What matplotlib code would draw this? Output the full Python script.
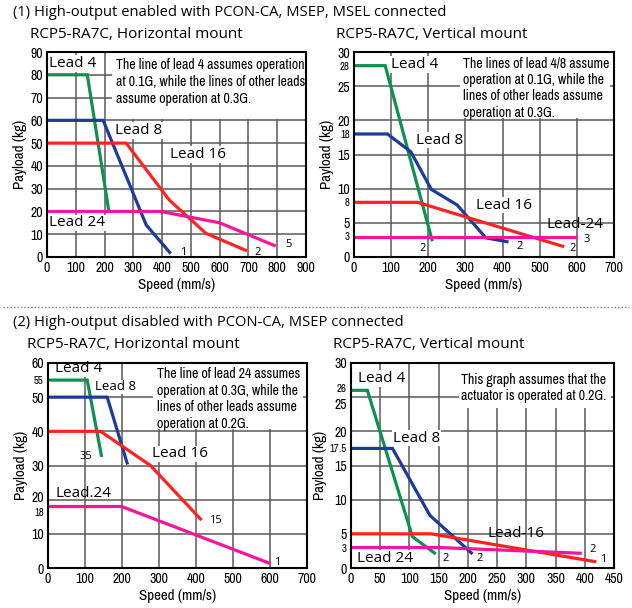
import matplotlib
matplotlib.use("Agg")
import matplotlib.pyplot as plt
from matplotlib import font_manager
from matplotlib.lines import Line2D
from matplotlib.patches import Rectangle
from matplotlib.transforms import ScaledTranslation

# DATA  (speed in mm/s, payload in kg)

# (1) high-output enabled, horizontal mount
p1_lead4_x = [0, 140, 215]
p1_lead4_y = [80, 80, 20]
p1_lead8_x = [0, 195, 345, 430]
p1_lead8_y = [60, 60, 14, 1.5]
p1_lead16_x = [0, 275, 425, 552, 695]
p1_lead16_y = [50, 50, 25, 10.4, 2.7]
p1_lead24_x = [0, 395, 600, 795]
p1_lead24_y = [20, 20, 15, 4.8]
p1_end_labels = ["", "1", "2", "5"]

# (1) high-output enabled, vertical mount
p2_lead4_x = [0, 84, 211]
p2_lead4_y = [28, 28, 2.3]
p2_lead8_x = [0, 90, 153, 208, 278, 355, 416]
p2_lead8_y = [18, 18, 15.4, 9.9, 7.6, 2.8, 2.2]
p2_lead16_x = [0, 171, 566]
p2_lead16_y = [8, 8, 1.5]
p2_lead24_x = [0, 600]
p2_lead24_y = [3, 3]
p2_end_labels = ["2", "2", "2", "3"]

# (2) high-output disabled, horizontal mount
p3_lead4_x = [0, 106, 145]
p3_lead4_y = [55, 55, 32.5]
p3_lead8_x = [0, 160, 215]
p3_lead8_y = [50, 50, 30.3]
p3_lead16_x = [0, 142, 277, 415]
p3_lead16_y = [40, 40, 30, 14]
p3_lead24_x = [0, 199, 601]
p3_lead24_y = [18, 18, 1.3]
p3_end_labels = ["35", "", "15", "1"]

# (2) high-output disabled, vertical mount
p4_lead4_x = [0, 28, 105, 145]
p4_lead4_y = [26, 26, 4.6, 2.05]
p4_lead8_x = [0, 71, 135, 208]
p4_lead8_y = [17.5, 17.5, 7.7, 2.05]
p4_lead16_x = [0, 137, 420]
p4_lead16_y = [5, 5, 0.9]
p4_lead24_x = [0, 150, 395]
p4_lead24_y = [3, 3, 2.15]
p4_end_labels = ["2", "2", "1", "2"]

lead_names = ["Lead 4", "Lead 8", "Lead 16", "Lead 24"]
colors = ["#0b9150", "#1d3a9c", "#ff2222", "#f5169a"]


# FONTS - look for a regular condensed face, otherwise shrink a narrow-ish one
def is_regular(f):
    return f.style == "normal" and f.weight in (400, "normal", "regular", "book")


def pick_narrow():
    fonts = font_manager.fontManager.ttflist
    for f in fonts:
        if ("Narrow" in f.name or "Condensed" in f.name) and is_regular(f):
            return f.name, "normal", 1.0
    for f in fonts:
        st = f.stretch
        if (st in ("condensed", "semi-condensed", "extra-condensed") or (
                isinstance(st, int) and st < 500)) and is_regular(f):
            return f.name, st, 1.0
    for f in fonts:
        if "Narrow" in f.name or "Condensed" in f.name:
            return f.name, "normal", 1.0
    return "Roboto", "normal", 0.84


NARROW, NARROW_STRETCH, NS = pick_narrow()
MAIN = "Open Sans"

plt.rcParams["font.family"] = [MAIN, "DejaVu Sans"]

W, H = 632, 608
fig = plt.figure(figsize=(W / 100, H / 100), dpi=100)


def nfont(size):
    return dict(family=NARROW, stretch=NARROW_STRETCH, weight="normal", fontsize=size * NS)


def add_axes_px(left, right, top, bottom):
    return fig.add_axes([left / W, 1 - bottom / H, (right - left) / W, (bottom - top) / H])


def setup(ax, xmax, xstep, ymax, yticks, ygrid, small_ticks):
    ax.set_xlim(0, xmax)
    ax.set_ylim(0, ymax)
    ax.set_xticks(range(0, xmax + 1, xstep))
    ax.set_yticks(yticks)
    ax.set_yticks(small_ticks, minor=True)
    ax.set_xticklabels([str(v) for v in range(0, xmax + 1, xstep)], **nfont(10))
    ax.set_yticklabels([str(v) for v in yticks], **nfont(10))
    ax.set_yticklabels([str(v) for v in small_ticks], minor=True, **nfont(7.8))
    ax.tick_params(which="both", length=0, pad=3)
    for v in range(xstep, xmax, xstep):
        ax.axvline(v, color="#5a5a5a", lw=1.1, zorder=1)
    for v in ygrid:
        ax.axhline(v, color="#5a5a5a", lw=1.1, zorder=1)
    for s in ax.spines.values():
        s.set_linewidth(1.5)
        s.set_zorder(6)
    ax.set_xlabel("Speed (mm/s)", labelpad=2, **nfont(10.8))
    ax.set_ylabel("Payload (kg)", labelpad=2, **nfont(10.8))


def nudge_ylabel(ax, value, dy_px, minor=False):
    # move one y tick label up/down a few pixels so close labels don't collide
    ticks = ax.yaxis.get_minor_ticks() if minor else ax.yaxis.get_major_ticks()
    locs = ax.yaxis.get_minorticklocs() if minor else ax.yaxis.get_majorticklocs()
    for t, loc in zip(ticks, locs):
        if abs(loc - value) < 1e-6:
            lab = t.label1
            lab.set_transform(lab.get_transform()
                              + ScaledTranslation(0, dy_px / 100, fig.dpi_scale_trans))


def draw_lines(ax, xs, ys, end_labels, offsets):
    for x, y, c, lab, off in zip(xs, ys, colors, end_labels, offsets):
        ax.plot(x, y, color=c, lw=2.3, zorder=4, solid_capstyle="butt",
                solid_joinstyle="miter")
        if lab:
            ax.annotate(lab, (x[-1], y[-1]), xytext=off, textcoords="offset points",
                        ha="center", va="center", fontsize=8, zorder=5)


def lead_label(ax, x, y, name, white=True, size=11):
    kw = dict(fontsize=size, va="center", ha="left", zorder=5)
    if white:
        kw["bbox"] = dict(fc="white", ec="none", pad=0.5)
    ax.text(x, y, name, **kw)


def note(ax, x0, x1, y0, y1, tx, ty, text):
    ax.add_patch(Rectangle((x0, y0), x1 - x0, y1 - y0, fc="white", ec="none", zorder=2))
    ax.text(tx, ty, text, linespacing=1.24, va="top", ha="left", zorder=3, **nfont(10.0))


# headings
fig.text(13 / W, 1 - 12 / H, "(1) High-output enabled with PCON-CA, MSEP, MSEL connected",
         fontsize=10.6, va="center", ha="left")
fig.text(30 / W, 1 - 35 / H, "RCP5-RA7C, Horizontal mount", fontsize=11, va="center")
fig.text(336 / W, 1 - 35 / H, "RCP5-RA7C, Vertical mount", fontsize=11, va="center")
fig.add_artist(Line2D([0.005, 0.995], [1 - 307 / H, 1 - 307 / H], transform=fig.transFigure,
                      color="#777777", lw=1.0, ls=(0, (1, 1.5))))
fig.text(13 / W, 1 - 322 / H, "(2) High-output disabled with PCON-CA, MSEP connected",
         fontsize=10.6, va="center", ha="left")
fig.text(27 / W, 1 - 345 / H, "RCP5-RA7C, Horizontal mount", fontsize=11, va="center")
fig.text(333 / W, 1 - 345 / H, "RCP5-RA7C, Vertical mount", fontsize=11, va="center")

# PANEL 1
ax1 = add_axes_px(47, 306, 52, 257)
setup(ax1, 900, 100, 90, list(range(0, 91, 10)), range(10, 90, 10), [])
note(ax1, 226, 900, 60.5, 90, 240, 87.2,
     "The line of lead 4 assumes operation\nat 0.1G, while the lines of other leads\nassume operation at 0.3G.")
draw_lines(ax1, [p1_lead4_x, p1_lead8_x, p1_lead16_x, p1_lead24_x],
           [p1_lead4_y, p1_lead8_y, p1_lead16_y, p1_lead24_y], p1_end_labels,
           [(0, 0), (9, 1), (8, -1), (9, 1)])
lead_label(ax1, 8, 85, lead_names[0])
lead_label(ax1, 236, 55.5, lead_names[1])
lead_label(ax1, 427, 45, lead_names[2])
lead_label(ax1, 8, 15, lead_names[3])

# PANEL 2
ax2 = add_axes_px(354, 614, 52, 257)
setup(ax2, 700, 100, 30, [0, 5, 10, 15, 20, 25, 30], [5, 10, 15, 20, 25], [3, 8, 18, 28])
note(ax2, 285, 690, 20.4, 30, 293, 29.4,
     "The lines of lead 4/8 assume\noperation at 0.1G, while the\nlines of other leads assume\noperation at 0.3G.")
draw_lines(ax2, [p2_lead4_x, p2_lead8_x, p2_lead16_x, p2_lead24_x],
           [p2_lead4_y, p2_lead8_y, p2_lead16_y, p2_lead24_y], p2_end_labels,
           [(-7, -5), (8, -3), (6, -1), (7, -2)])
lead_label(ax2, 100, 28.2, lead_names[0])
lead_label(ax2, 167, 17.1, lead_names[1])
lead_label(ax2, 328, 7.6, lead_names[2])
lead_label(ax2, 517, 4.8, lead_names[3].replace(" ", "-"), white=False)

# PANEL 3
ax3 = add_axes_px(48, 307, 363, 568)
setup(ax3, 700, 100, 60, [0, 10, 20, 30, 40, 50, 60], range(10, 60, 10), [18, 55])
nudge_ylabel(ax3, 20, 3)
nudge_ylabel(ax3, 18, -5, minor=True)
note(ax3, 285, 690, 40.8, 60, 295, 58.8,
     "The line of lead 24 assumes\noperation at 0.3G, while the\nlines of other leads assume\noperation at 0.2G.")
draw_lines(ax3, [p3_lead4_x, p3_lead8_x, p3_lead16_x, p3_lead24_x],
           [p3_lead4_y, p3_lead8_y, p3_lead16_y, p3_lead24_y], p3_end_labels,
           [(-11, 0), (0, 0), (10, 0), (5, 1)])
lead_label(ax3, 19, 58.3, lead_names[0])
lead_label(ax3, 127, 53, lead_names[1], size=9.5)
lead_label(ax3, 281, 33.4, lead_names[2])
lead_label(ax3, 19, 21.7, lead_names[3].replace(" ", "."), white=False)

# PANEL 4
ax4 = add_axes_px(351, 614, 363, 568)
setup(ax4, 450, 50, 30, [0, 5, 10, 15, 20, 25, 30], [5, 10, 15, 20, 25], [3, 17.5, 26])
nudge_ylabel(ax4, 25, -6)
nudge_ylabel(ax4, 26, 2, minor=True)
note(ax4, 185, 445, 23.4, 30, 189, 28.6,
     "This graph assumes that the\nactuator is operated at 0.2G.")
draw_lines(ax4, [p4_lead4_x, p4_lead8_x, p4_lead16_x, p4_lead24_x],
           [p4_lead4_y, p4_lead8_y, p4_lead16_y, p4_lead24_y], p4_end_labels,
           [(7, -3), (5, -3), (5, 2), (8, 3)])
lead_label(ax4, 12, 27.7, lead_names[0])
lead_label(ax4, 72, 19, lead_names[1])
lead_label(ax4, 234, 5, lead_names[2].replace(" ", "-"), white=False)
lead_label(ax4, 11, 1.4, lead_names[3])

fig.savefig("out.png", dpi=100)
